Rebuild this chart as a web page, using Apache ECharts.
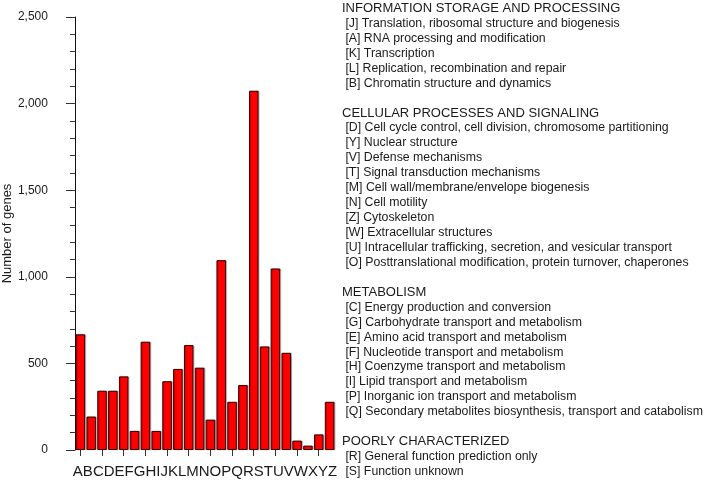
<!DOCTYPE html>
<html>
<head>
<meta charset="utf-8">
<script src="https://cdn.jsdelivr.net/npm/echarts@6/dist/echarts.min.js"></script>
<style>
  html, body { margin: 0; padding: 0; background: #ffffff; }
  #chart { width: 712px; height: 484px; }
</style>
</head>
<body>
<div id="chart"></div>
<script>
// ---- data ----
const barCategories = ['1','2','3','4','5','6','7','8','9','10','11','12','13','14','15','16','17','18','19','20','21','22','23','24'];
const geneCounts = [668, 193, 342, 342, 425, 110, 625, 110, 397, 468, 606, 475, 175, 1096, 278, 375, 2074, 598, 1048, 561, 54, 25, 90, 278];
const xLabelText = 'ABCDEFGHIJKLMNOPQRSTUVWXYZ';
const yAxisTitle = 'Number of genes';
const yTickValues = [0, 500, 1000, 1500, 2000, 2500];
const legendLines = [
  'INFORMATION STORAGE AND PROCESSING',
  ' [J] Translation, ribosomal structure and biogenesis',
  ' [A] RNA processing and modification',
  ' [K] Transcription',
  ' [L] Replication, recombination and repair',
  ' [B] Chromatin structure and dynamics',
  '',
  'CELLULAR PROCESSES AND SIGNALING',
  ' [D] Cell cycle control, cell division, chromosome partitioning',
  ' [Y] Nuclear structure',
  ' [V] Defense mechanisms',
  ' [T] Signal transduction mechanisms',
  ' [M] Cell wall/membrane/envelope biogenesis',
  ' [N] Cell motility',
  ' [Z] Cytoskeleton',
  ' [W] Extracellular structures',
  ' [U] Intracellular trafficking, secretion, and vesicular transport',
  ' [O] Posttranslational modification, protein turnover, chaperones',
  '',
  'METABOLISM',
  ' [C] Energy production and conversion',
  ' [G] Carbohydrate transport and metabolism',
  ' [E] Amino acid transport and metabolism',
  ' [F] Nucleotide transport and metabolism',
  ' [H] Coenzyme transport and metabolism',
  ' [I] Lipid transport and metabolism',
  ' [P] Inorganic ion transport and metabolism',
  ' [Q] Secondary metabolites biosynthesis, transport and catabolism',
  '',
  'POORLY CHARACTERIZED',
  ' [R] General function prediction only',
  ' [S] Function unknown'
];

// ---- chart ----
const FONT = "'Liberation Sans', Arial, sans-serif";
const chart = echarts.init(document.getElementById('chart'), null, { renderer: 'canvas' });

const graphicTexts = legendLines.map((line, i) => {
  const isHeader = line.length > 0 && line[0] !== ' ';
  return {
    type: 'text',
    left: 342,
    top: (isHeader ? 2 : 2.5) + i * 14.94,
    silent: true,
    style: {
      text: line,
      fill: '#1a1a1a',
      font: (isHeader ? '13px ' : '12.3px ') + FONT
    }
  };
});

chart.setOption({
  animation: false,
  backgroundColor: '#ffffff',
  textStyle: { fontFamily: FONT },
  grid: { left: 67, right: 377, top: 17, bottom: 32, containLabel: false },
  xAxis: {
    type: 'category',
    data: barCategories,
    offset: 2,
    axisLine: { show: false },
    axisTick: { show: true, alignWithLabel: true, length: 6, lineStyle: { color: '#333', width: 1 } },
    axisLabel: { show: false },
    name: xLabelText,
    nameLocation: 'middle',
    nameGap: 12,
    nameTextStyle: { fontSize: 15, color: '#1a1a1a', fontFamily: FONT, verticalAlign: 'top' }
  },
  yAxis: {
    type: 'value',
    min: 0,
    max: 2500,
    interval: 500,
    name: yAxisTitle,
    nameLocation: 'middle',
    nameGap: 53,
    nameTextStyle: { fontSize: 13, color: '#1a1a1a', fontFamily: FONT },
    axisLine: { show: true, lineStyle: { color: '#111', width: 1 } },
    axisTick: { show: true, inside: false, length: 9, lineStyle: { color: '#333', width: 1 } },
    minorTick: { show: true, splitNumber: 5, length: 5, lineStyle: { color: '#333', width: 1 } },
    splitLine: { show: false },
    axisLabel: {
      fontSize: 12,
      color: '#1a1a1a',
      margin: 27,
      formatter: v => yTickValues.includes(v) ? v.toLocaleString('en-US') : ''
    }
  },
  series: [{
    type: 'bar',
    data: geneCounts,
    barCategoryGap: '12%',
    itemStyle: {
      color: '#ff0000',
      borderColor: '#3a0000',
      borderWidth: 1,
      shadowColor: 'rgba(0,0,0,0.25)',
      shadowOffsetX: 1,
      shadowOffsetY: 0,
      shadowBlur: 1
    }
  }],
  graphic: graphicTexts
});
</script>
</body>
</html>
